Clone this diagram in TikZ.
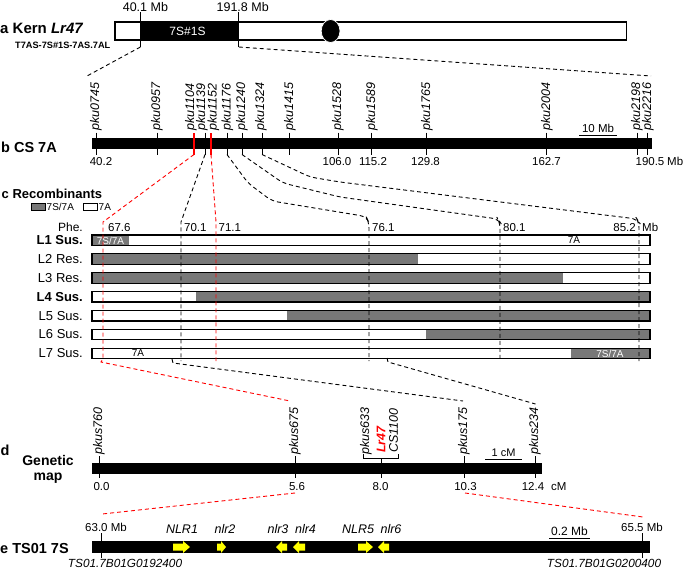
\documentclass[tikz,border=0pt]{standalone}
\usepackage{fontspec}
\setmainfont{Liberation Sans}
\definecolor{segray}{RGB}{120,120,120}
\definecolor{nlryellow}{RGB}{255,255,0}
\definecolor{mapred}{RGB}{255,0,0}
\newcommand\nlrarrow[4]{%
  \fill[nlryellow] (#1,#3-3.5) -- ({#2-(#4)},#3-3.5) -- ({#2-(#4)},#3-6) -- (#2,#3) -- ({#2-(#4)},#3+6) -- ({#2-(#4)},#3+3.5) -- (#1,#3+3.5) -- cycle;}
\tikzset{
  mk/.style={rotate=90, anchor=west, inner sep=0pt, font=\fontsize{12.5}{12.5}\selectfont\itshape},
  num/.style={anchor=base, inner sep=0pt, font=\fontsize{11.5}{11.5}\selectfont},
  ttl/.style={anchor=base west, inner sep=0pt, font=\fontsize{14.5}{14.5}\selectfont\bfseries},
  dl/.style={dash pattern=on 4pt off 3pt, line width=0.9pt},
  rdl/.style={dl, draw=mapred},
  tk/.style={line width=0.9pt},
  rec/.style={draw=black, line width=1.2pt},
}
\begin{document}
\begin{tikzpicture}[x=1pt,y=-1pt]
\useasboundingbox (0,0) rectangle (685,571);

% ---------------- panel a
\node[anchor=base west, inner sep=0pt, font=\fontsize{15}{15}\selectfont\bfseries] (atitle) at (0,33) {a Kern \textit{Lr47}};
\node[anchor=base west, inner sep=0pt, font=\fontsize{9.2}{9.2}\selectfont\bfseries] (akern) at (15,48) {T7AS-7S\#1S-7AS.7AL};
\draw[line width=1.4pt, fill=white] (115,22) rectangle (626.5,40);
\fill (140.4,22) rectangle (238.8,40);
\node[text=white, inner sep=0pt, font=\fontsize{12}{12}\selectfont] (a7s) at (187.5,31) {7S\#1S};
\draw[white, line width=0.7pt, fill=black] (330.6,31) ellipse [x radius=9.4pt, y radius=11.5pt];
\draw[tk] (140.4,12) coordinate (a40top) -- (140.4,47) coordinate (a40bot);
\draw[tk] (238.8,12) coordinate (a191top) -- (238.8,47) coordinate (a191bot);
\node[num, font=\fontsize{12.5}{12.5}\selectfont] (a40lab) at (145.4,11) {40.1 Mb};
\node[num, font=\fontsize{12.5}{12.5}\selectfont] (a191lab) at (242.7,11) {191.8 Mb};

% ---------------- panel b
\node[ttl] (btitle) at (1,152) {b CS 7A};
\fill (92,138) rectangle (652,149);
\foreach \tx/\lx/\nm in {96/96/0745, 157/157/0957, 205/202/1139, 227/227.5/1176, 242/242/1240, 262/261/1324, 289/290/1415, 338/338/1528, 371/372/1589, 426/427/1765, 546/547/2004, 637/637/2198, 647/648/2216}{
  \node[mk] (pku\nm) at (\lx,131) {pku\nm};
  \draw[tk] (\tx,132.5) -- (\tx,138);
  \draw[tk] (\tx,149) -- (\tx,154.5) coordinate (bb\nm);
}
\node[mk] (pku1104) at (191,131) {pku1104};
\node[mk] (pku1152) at (213.5,131) {pku1152};
\draw[mapred, line width=1.2pt] (194,133) -- (194,154.5) coordinate (bb1104);
\draw[mapred, line width=1.2pt] (211,133) -- (211,154.5) coordinate (bb1152);
\node[num] (bn1) at (101,165) {40.2};
\node[num] (bn2) at (337,165) {106.0};
\node[num] (bn3) at (373,165) {115.2};
\node[num] (bn4) at (425.5,165) {129.8};
\node[num] (bn5) at (546.5,165) {162.7};
\node[num] (bn6) at (650,165) {190.5};
\node[num, anchor=base west] (bmb) at (667,165) {Mb};
\draw[line width=1pt] (579,135.5) coordinate (bs1) -- (617,135.5) coordinate (bs2);
\node[num] (bscale) at (598,132.5) {10 Mb};

% a -> b connectors
\coordinate (bleft) at (87,76);
\coordinate (bright) at (651,76);
\draw[dl] (a40bot) -- (bleft);
\draw[dl] (a191bot) -- (bright);

% ---------------- panel c
\node[anchor=base west, inner sep=0pt, font=\fontsize{13}{13}\selectfont\bfseries] (ctitle) at (1.5,198) {c Recombinants};
\draw[line width=1pt, fill=segray] (31,203) rectangle (45,210);
\node[anchor=base west, inner sep=0pt, font=\fontsize{10}{10}\selectfont] (leg1) at (46.5,210.5) {7S/7A};
\draw[line width=1pt, fill=white] (83,203) rectangle (97,210);
\node[anchor=base west, inner sep=0pt, font=\fontsize{10}{10}\selectfont] (leg2) at (98.5,210.5) {7A};
\node[anchor=base east, inner sep=0pt, font=\fontsize{12}{12}\selectfont] (phe) at (83,231) {Phe.};

\foreach \i/\t/\ga/\gb/\lab in {1/235/92/129/{\bfseries L1 Sus.}, 2/253.85/92/418/{L2 Res.}, 3/272.7/92/563/{L3 Res.}, 4/291.55/196/650/{\bfseries L4 Sus.}, 5/310.4/287/650/{L5 Sus.}, 6/329.25/426/650/{L6 Sus.}, 7/348.1/571/650/{L7 Sus.}}{
  \fill[white] (92,\t) rectangle (650,\t+10.5);
  \fill[segray] (\ga,\t) rectangle (\gb,\t+10.5);
  \draw[rec] (92,\t) rectangle (650,\t+10.5);
  \node[anchor=east, inner sep=0pt, font=\fontsize{13}{13}\selectfont] (row\i) at (83,\t+5.25) {\lab};
}
\node[text=white, inner sep=0pt, font=\fontsize{10}{10}\selectfont] (l1s) at (110.5,240.5) {7S/7A};
\node[inner sep=0pt, font=\fontsize{10}{10}\selectfont] (l1a) at (574,240.5) {7A};
\node[inner sep=0pt, font=\fontsize{10}{10}\selectfont] (l7a) at (138,353.5) {7A};
\node[text=white, inner sep=0pt, font=\fontsize{10}{10}\selectfont] (l7s) at (610,353.5) {7S/7A};

\node[num, anchor=base west] (c676) at (108,231) {67.6};
\node[num, anchor=base west] (c701) at (184,231) {70.1};
\node[num, anchor=base west] (c711) at (218.5,231) {71.1};
\node[num, anchor=base west] (c761) at (372,231) {76.1};
\node[num, anchor=base west] (c801) at (503,231) {80.1};
\node[num, anchor=base east] (c852) at (636,231) {85.2};
\node[num, anchor=base west] (cmb) at (642,231) {Mb};

% ---------------- panel d
\node[ttl] (dletter) at (0.5,455) {d};
\node[anchor=base, inner sep=0pt, font=\fontsize{14}{14}\selectfont\bfseries] (dgen) at (48,465) {Genetic};
\node[anchor=base, inner sep=0pt, font=\fontsize{14}{14}\selectfont\bfseries] (dmap) at (48,480.5) {map};
\fill (92,463) rectangle (542,474);
\foreach \tx/\nm in {99/760, 295/675, 464/175, 535/234}{
  \node[mk] (pkus\nm) at (\tx,455) {pkus\nm};
  \draw[tk] (\tx,456) -- (\tx,463);
  \draw[tk] (\tx,474) -- (\tx,478);
}
\node[mk] (pkus633) at (366,455) {pkus633};
\node[mk, font=\fontsize{12.5}{12.5}\selectfont\bfseries\itshape, text=mapred] (lr47) at (381,453) {Lr47};
\node[mk] (cs1100) at (393.5,453) {CS1100};
\draw[tk] (363,453.5) -- (363,458.5) -- (398,458.5) -- (398,453.5);
\draw[tk] (381,458.5) -- (381,463);
\draw[tk] (381,474) -- (381,478);
\node[num] (dn1) at (101.5,490) {0.0};
\node[num] (dn2) at (297,490) {5.6};
\node[num] (dn3) at (380.5,490) {8.0};
\node[num] (dn4) at (465.5,490) {10.3};
\node[num] (dn5) at (533,490) {12.4};
\node[num, anchor=base west] (dcm) at (551,490) {cM};
\draw[line width=1pt] (485,459) coordinate (ds1) -- (522,459) coordinate (ds2);
\node[num, font=\fontsize{11}{11}\selectfont] (dscale) at (503.5,456) {1 cM};

% c vertical guides and connectors (b -> c -> d)
\coordinate (d675top) at (290,401);
\coordinate (d175top) at (463,401);
\coordinate (d234top) at (535.5,404);
\draw[rdl] (bb1104) -- (103,222) -- (103,359) -- (101,362) -- (d675top);
\draw[dl] (bb1139) -- (181,222) -- (181,361);
\draw[dl] (172,359) -- (173,363) -- (d175top);
\draw[rdl] (bb1152) -- (216,222) -- (216,361);
\draw[dl, rounded corners=6pt] (bb1176) -- (248,183) -- (272,201) -- (366,216.5) -- (369,222) -- (369,361);
\draw[dl, rounded corners=6pt] (bb1240) -- (283,183) -- (340,197) -- (498,219) -- (500,222) -- (500,361);
\draw[dl, rounded corners=6pt] (bb1324) -- (310,177) -- (340,182) -- (637,219) -- (639,222) -- (639,361);
\draw[dl] (387,358) -- (388,362) -- (d234top);

% ---------------- panel e
\node[ttl] (etitle) at (0,553) {e TS01 7S};
\fill (92,541) rectangle (650,553);
\draw[tk] (101,533) coordinate (e63top) -- (101,558);
\draw[tk] (642,533) coordinate (e65top) -- (642,558);
\node[num] (e63) at (106,531) {63.0 Mb};
\node[num] (e65) at (642,531) {65.5 Mb};
\node[num, font=\fontsize{11.8}{11.8}\selectfont\itshape] (eg1) at (125,567) {TS01.7B01G0192400};
\node[num, font=\fontsize{11.8}{11.8}\selectfont\itshape] (eg2) at (604,567) {TS01.7B01G0200400};
\draw[line width=1pt] (549,538) coordinate (es1) -- (590,538) coordinate (es2);
\node[num, font=\fontsize{12}{12}\selectfont] (escale) at (569.5,535) {0.2 Mb};
\nlrarrow{173}{190}{547}{7}
\nlrarrow{217}{226}{547}{5}
\nlrarrow{287}{276}{547}{-6}
\nlrarrow{305}{293}{547}{-6}
\nlrarrow{358}{373}{547}{7}
\nlrarrow{389}{378}{547}{-6}
\foreach \x/\nm/\txt in {182/n1/NLR1, 225/n2/nlr2, 278/n3/nlr3, 305.5/n4/nlr4, 358/n5/NLR5, 391/n6/nlr6}{
  \node[num, font=\fontsize{12.5}{12.5}\selectfont\itshape] (e\nm) at (\x,533) {\txt};
}
% d -> e connectors
\coordinate (d675bot) at (295,493);
\coordinate (d175bot) at (465,493);
\coordinate (eleft) at (102,514);
\coordinate (eright) at (643,517);
\draw[rdl] (d675bot) -- (eleft);
\draw[rdl] (d175bot) -- (eright);
\end{tikzpicture}
\end{document}
